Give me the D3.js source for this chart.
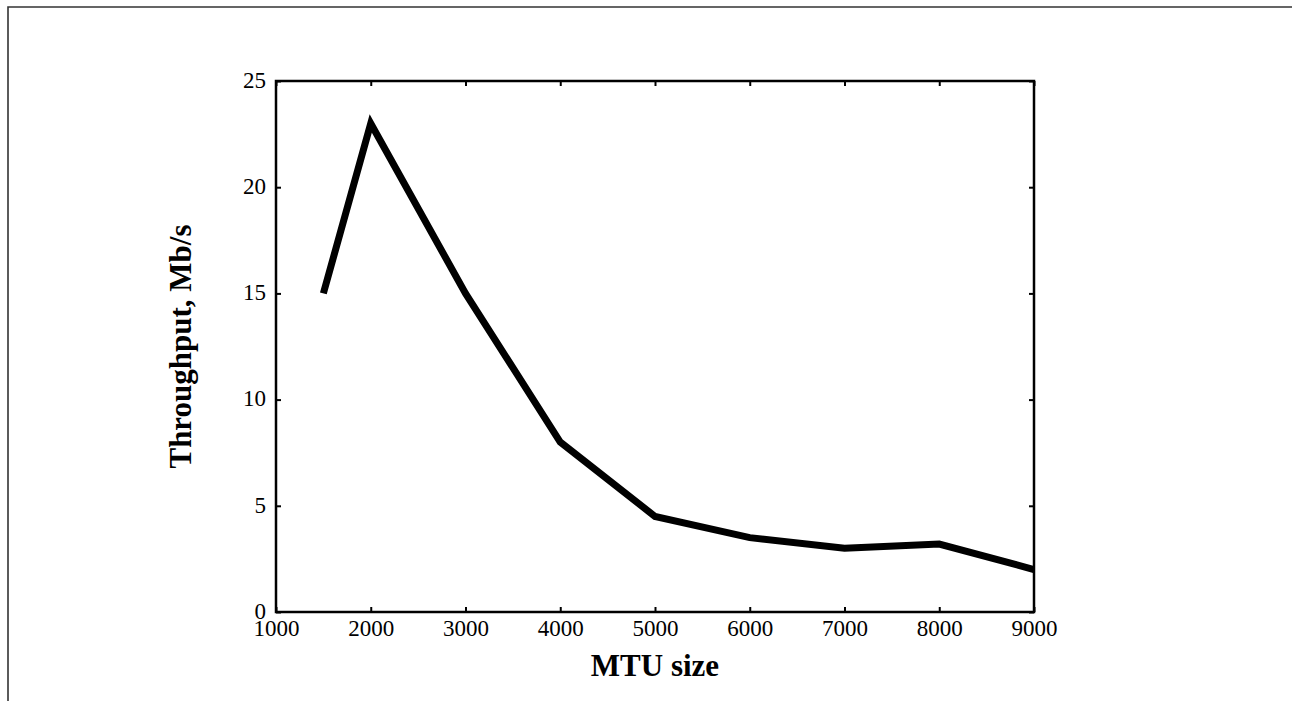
<!DOCTYPE html>
<html>
<head>
<meta charset="utf-8">
<script src="https://cdn.jsdelivr.net/npm/d3@7"></script>
<style>
  html, body { margin: 0; padding: 0; background: #fff; }
  svg { display: block; }
</style>
</head>
<body>
<svg id="chart" width="1292" height="701"></svg>
<script>
// Throughput measured at each MTU size
const mtuSizes   = [1500, 2000, 3000, 4000, 5000, 6000, 7000, 8000, 9000];
const throughput = [15, 23, 15, 8, 4.5, 3.5, 3, 3.2, 2];
const xTicks = [1000, 2000, 3000, 4000, 5000, 6000, 7000, 8000, 9000];
const yTicks = [0, 5, 10, 15, 20, 25];

const svg = d3.select("#chart");
const W = 1292, H = 701;
const plot = { left: 276, right: 1034, top: 81, bottom: 612 };
const serif = "'Liberation Serif', 'Times New Roman', serif";

// page frame (top and left edges)
svg.append("path")
  .attr("d", `M8,${H} L8,7 L${W},7`)
  .attr("fill", "none")
  .attr("stroke", "#333")
  .attr("stroke-width", 1.6);

const x = d3.scaleLinear().domain([1000, 9000]).range([plot.left, plot.right]);
const y = d3.scaleLinear().domain([0, 25]).range([plot.bottom, plot.top]);

const tickLen = 5;

// bottom axis with labels
const gx = svg.append("g")
  .attr("transform", `translate(0,${plot.bottom})`)
  .call(d3.axisBottom(x).tickValues(xTicks).tickSize(-tickLen).tickPadding(12).tickFormat(d3.format("d")));
// left axis with labels
const gy = svg.append("g")
  .attr("transform", `translate(${plot.left},0)`)
  .call(d3.axisLeft(y).tickValues(yTicks).tickSize(-tickLen).tickPadding(10).tickFormat(d3.format("d")));
// top and right mirror ticks
const gt = svg.append("g")
  .attr("transform", `translate(0,${plot.top})`)
  .call(d3.axisTop(x).tickValues(xTicks).tickSize(-tickLen).tickFormat(""));
const gr = svg.append("g")
  .attr("transform", `translate(${plot.right},0)`)
  .call(d3.axisRight(y).tickValues(yTicks).tickSize(-tickLen).tickFormat(""));

[gx, gy, gt, gr].forEach(g => {
  g.select(".domain").remove();
  g.selectAll(".tick line").attr("stroke", "#000").attr("stroke-width", 2);
  g.selectAll(".tick text")
    .attr("fill", "#000")
    .style("font-family", serif)
    .style("font-size", "23px");
});
gx.selectAll(".tick text").attr("dy", "0.71em").attr("y", 8);
gy.selectAll(".tick text").attr("dy", "0.27em");

// plot box
svg.append("rect")
  .attr("x", plot.left).attr("y", plot.top)
  .attr("width", plot.right - plot.left)
  .attr("height", plot.bottom - plot.top)
  .attr("fill", "none")
  .attr("stroke", "#000")
  .attr("stroke-width", 2.5);

// data line
const pts = mtuSizes.map((m, i) => [m, throughput[i]]);
svg.append("path")
  .datum(pts)
  .attr("d", d3.line().x(d => x(d[0])).y(d => y(d[1])))
  .attr("fill", "none")
  .attr("stroke", "#000")
  .attr("stroke-width", 7)
  .attr("stroke-linejoin", "miter")
  .attr("stroke-miterlimit", 10)
  .attr("stroke-linecap", "butt");

// axis titles
svg.append("text")
  .attr("x", (plot.left + plot.right) / 2)
  .attr("y", 676)
  .attr("text-anchor", "middle")
  .style("font-family", serif)
  .style("font-weight", "bold")
  .style("font-size", "31px")
  .text("MTU size");

svg.append("text")
  .attr("transform", `translate(191,${(plot.top + plot.bottom) / 2}) rotate(-90)`)
  .attr("text-anchor", "middle")
  .style("font-family", serif)
  .style("font-weight", "bold")
  .style("font-size", "31px")
  .text("Throughput, Mb/s");
</script>
</body>
</html>
